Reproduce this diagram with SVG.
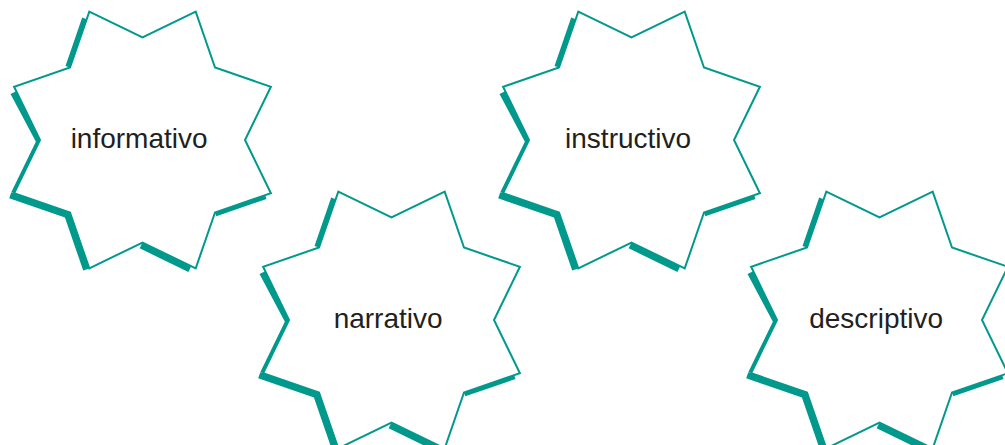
<svg xmlns="http://www.w3.org/2000/svg" xmlns:xlink="http://www.w3.org/1999/xlink" width="1005" height="445" viewBox="0 0 1005 445">
  <style>
    .shadow { fill: #00998c; stroke: none; }
    .front { fill: #ffffff; stroke: #00998c; stroke-width: 2; stroke-linejoin: miter; }
    .label { font-family: "Liberation Sans", Arial, Helvetica, sans-serif; font-size: 28px; fill: #231f20; text-anchor: middle; }
  </style>
  <defs>
    <g id="star">
      <polygon class="shadow" points="-72.5,-72.5 -55.8,-120.8 -60.3,-122.4 -77.0,-74.1"/>
      <polygon class="shadow" points="-102.5,0 -126.2,-48.7 -132.0,-45.9 -106.5,2.0"/>
      <polygon class="shadow" points="-128.4,53.2 -102.5,0 -105.2,-1.3 -131.1,51.9"/>
      <polygon class="shadow" points="-72.5,72.5 -131.2,52.2 -133.3,58.3 -74.6,78.6"/>
      <polygon class="shadow" points="-53.2,128.4 -72.5,72.5 -78.6,74.6 -59.3,130.5"/>
      <polygon class="shadow" points="0,102.5 48.7,126.2 45.9,132.0 -2.85,108.3"/>
      <polygon class="shadow" points="122.7,55.2 72.5,72.5 73.8,76.3 124.0,59.0"/>
      <polygon class="front" points="-53.2,-128.4 0,-102.5 53.2,-128.4 72.5,-72.5 128.4,-53.2 102.5,0 128.4,53.2 72.5,72.5 53.2,128.4 0,102.5 -53.2,128.4 -72.5,72.5 -128.4,53.2 -102.5,0 -128.4,-53.2 -72.5,-72.5"/>
    </g>
  </defs>
  <g id="connectors"/>
  <g id="node-informativo" transform="translate(142.5,140)">
    <use href="#star" xlink:href="#star"/>
    <text class="label" x="-3.4" y="7.7">informativo</text>
  </g>
  <g id="node-narrativo" transform="translate(391.5,320)">
    <use href="#star" xlink:href="#star"/>
    <text class="label" x="-3.4" y="7.7">narrativo</text>
  </g>
  <g id="node-instructivo" transform="translate(631.5,140)">
    <use href="#star" xlink:href="#star"/>
    <text class="label" x="-3.4" y="7.7">instructivo</text>
  </g>
  <g id="node-descriptivo" transform="translate(879.5,320)">
    <use href="#star" xlink:href="#star"/>
    <text class="label" x="-3.4" y="7.7">descriptivo</text>
  </g>
</svg>
